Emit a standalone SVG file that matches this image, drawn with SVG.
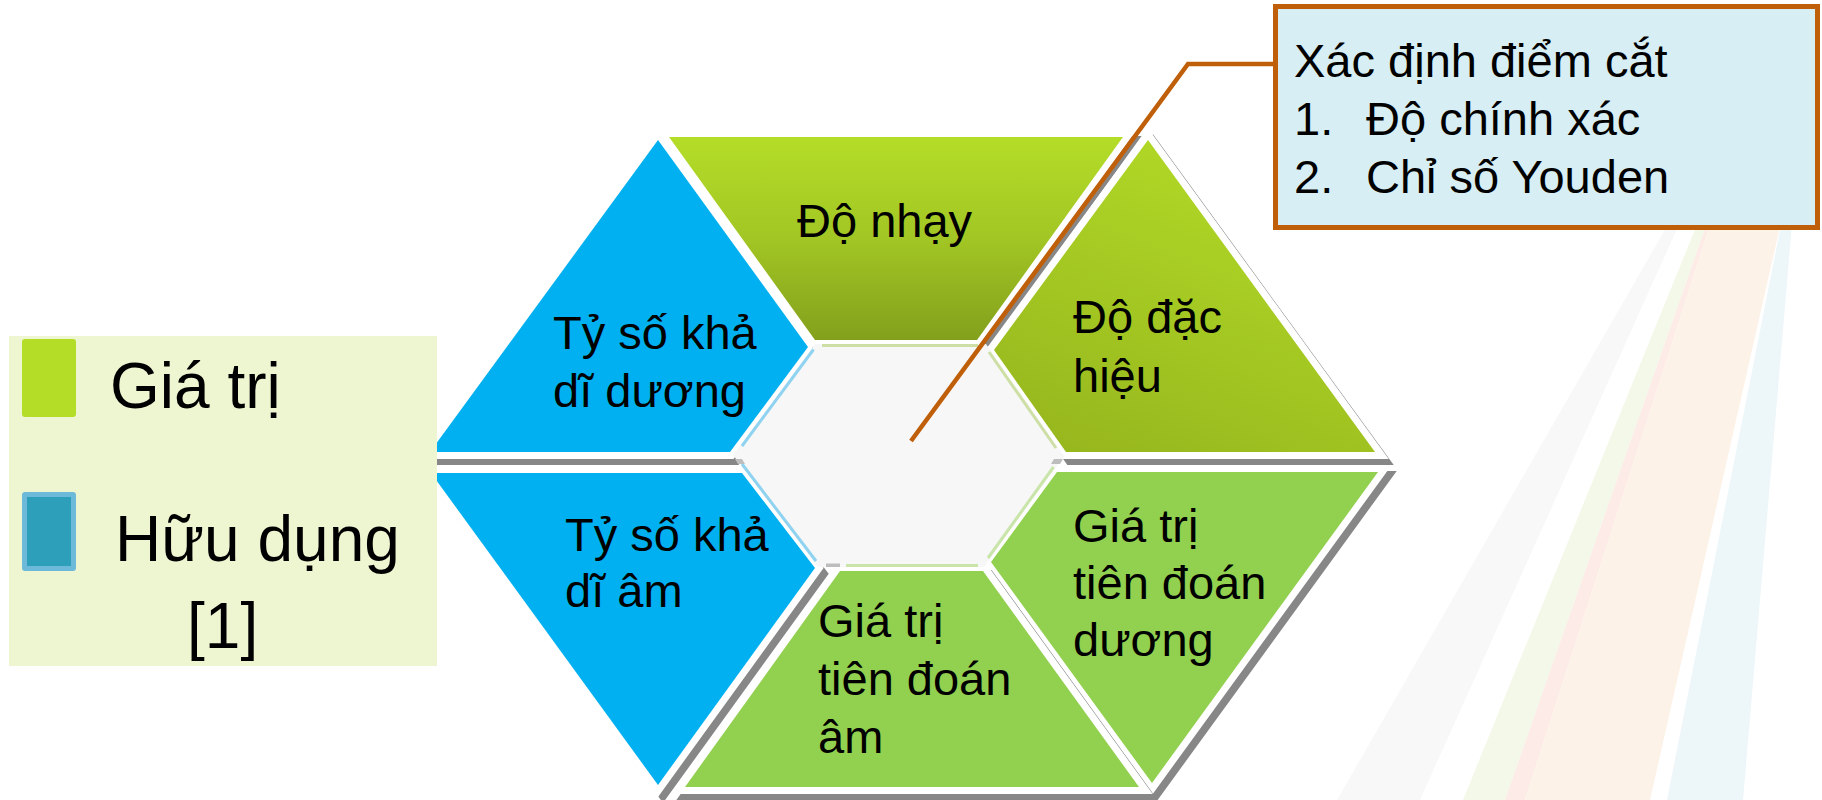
<svg xmlns="http://www.w3.org/2000/svg" xmlns:xlink="http://www.w3.org/1999/xlink" width="1822" height="800" viewBox="0 0 1822 800">
  <style>
    text { font-family: "Liberation Sans", Arial, "Noto Sans", sans-serif; fill: #000; }
    .lbl { font-size: 47px; }
    .leg { font-size: 64px; }
    .shadow { fill: #878787; stroke: #878787; stroke-width: 14; stroke-linejoin: miter; }
    .halo { fill: #fff; stroke: #fff; stroke-width: 14; stroke-linejoin: miter; }
    .blue { fill: #00b0f0; }
    .lime { fill: #92d050; }
    .edge { fill: none; stroke-width: 3; stroke-linecap: butt; }
    .band { stroke: none; }
  </style>
  <defs>
    <linearGradient id="gTop" x1="0" y1="0" x2="0" y2="1">
      <stop offset="0" stop-color="#b4dd28"/>
      <stop offset="0.5" stop-color="#a2c624"/>
      <stop offset="1" stop-color="#83a01c"/>
    </linearGradient>
    <linearGradient id="gRight" x1="0.7" y1="0" x2="0.2" y2="1">
      <stop offset="0" stop-color="#b3db27"/>
      <stop offset="1" stop-color="#97b71e"/>
    </linearGradient>
    <!-- segment outlines of the exploded hexagon -->
    <polygon id="p-ul" points="658,140 808,347 730,452 430,452"/>
    <polygon id="p-t" points="669,137 1123,137 977,340 815,340"/>
    <polygon id="p-ur" points="1148,140 1375,452 1066,452 994,350"/>
    <polygon id="p-lr" points="1057,472 1378,472 1152,783 991,562"/>
    <polygon id="p-b" points="840,571 983,571 1139,787 685,787"/>
    <polygon id="p-ll" points="431,473 742,473 815,568 658,785"/>
  </defs>

  <rect width="1822" height="800" fill="#ffffff"/>

  <!-- faint background rays -->
  <g id="rays">
    <polygon class="band" fill="#f8f8f8" points="1682,200 1690,200 1420,800 1337,800"/>
    <polygon class="band" fill="#f3f8e8" points="1707,200 1715,200 1505,800 1463,800"/>
    <polygon class="band" fill="#fcebe7" points="1715,200 1718,200 1525,800 1505,800"/>
    <polygon class="band" fill="#fdf2e7" points="1718,200 1786,200 1650,800 1525,800"/>
    <polygon class="band" fill="#edf6f9" points="1786,200 1794,200 1743,800 1667,800"/>
  </g>

  <!-- hexagon segments -->
  <g id="node-lr-positive">
    <use xlink:href="#p-ul" class="shadow" transform="translate(5,6)"/>
    <use xlink:href="#p-ul" class="halo"/>
    <use xlink:href="#p-ul" class="blue"/>
    <text class="lbl" x="553" y="349">Tỷ số khả</text>
    <text class="lbl" x="553" y="407">dĩ dương</text>
  </g>
  <g id="node-sensitivity">
    <use xlink:href="#p-t" class="shadow" transform="translate(5,6)"/>
    <use xlink:href="#p-t" class="halo"/>
    <use xlink:href="#p-t" fill="url(#gTop)"/>
    <text class="lbl" x="797" y="237">Độ nhạy</text>
  </g>
  <g id="node-specificity">
    <use xlink:href="#p-ur" class="shadow" transform="translate(5,6)"/>
    <use xlink:href="#p-ur" class="halo"/>
    <use xlink:href="#p-ur" fill="url(#gRight)"/>
    <text class="lbl" x="1073" y="333">Độ đặc</text>
    <text class="lbl" x="1073" y="392">hiệu</text>
  </g>
  <g id="node-ppv">
    <use xlink:href="#p-lr" class="shadow" transform="translate(5,6)"/>
    <use xlink:href="#p-lr" class="halo"/>
    <use xlink:href="#p-lr" class="lime"/>
    <text class="lbl" x="1073" y="542">Giá trị</text>
    <text class="lbl" x="1073" y="599">tiên đoán</text>
    <text class="lbl" x="1073" y="656">dương</text>
  </g>
  <g id="node-npv">
    <use xlink:href="#p-b" class="shadow" transform="translate(5,6)"/>
    <use xlink:href="#p-b" class="halo"/>
    <use xlink:href="#p-b" class="lime"/>
    <text class="lbl" x="818" y="637">Giá trị</text>
    <text class="lbl" x="818" y="695">tiên đoán</text>
    <text class="lbl" x="818" y="753">âm</text>
  </g>
  <g id="node-lr-negative">
    <use xlink:href="#p-ll" class="shadow" transform="translate(5,6)"/>
    <use xlink:href="#p-ll" class="halo"/>
    <use xlink:href="#p-ll" class="blue"/>
    <text class="lbl" x="565" y="551">Tỷ số khả</text>
    <text class="lbl" x="565" y="607">dĩ âm</text>
  </g>

  <!-- central hexagon -->
  <g id="node-center">
    <polygon points="815,344 986,344 1064,456 984,567 818,567 733,455" fill="#f7f7f7"/>
    <line class="edge" stroke="#cddfa4" x1="822" y1="345.5" x2="978" y2="345.5"/>
    <line class="edge" stroke="#cddfa4" x1="989" y1="352" x2="1056" y2="448"/>
    <line class="edge" stroke="#c9e5a9" x1="1053.5" y1="467" x2="988" y2="558"/>
    <line class="edge" stroke="#c9e5a9" x1="846" y1="565.5" x2="978" y2="565.5"/>
    <line class="edge" stroke="#8fd3f1" x1="816" y1="561" x2="742" y2="464"/>
    <line class="edge" stroke="#8fd3f1" x1="742" y1="446" x2="813.5" y2="349.5"/>
    <polygon points="735,459 742,459 745,464 738,464" fill="#bdbdbd"/>
    <polygon points="1054,459 1063,459 1060,464 1051,464" fill="#bdbdbd"/>
    <polygon points="826,563.5 840,563.5 840,567 826,567" fill="#bdbdbd"/>
  </g>

  <!-- legend -->
  <g id="legend">
    <rect x="9" y="336" width="428" height="330" fill="#eef6d1"/>
    <rect x="22" y="339" width="54" height="78" rx="3" fill="#b4dd28"/>
    <rect x="22" y="492" width="54" height="79" rx="3" fill="#6cb9d9"/>
    <rect x="27" y="497" width="44" height="69" fill="#2e9fbb"/>
    <text class="leg" x="110" y="408">Giá trị</text>
    <text class="leg" x="115" y="561">Hữu dụng</text>
    <text class="leg" x="187" y="648">[1]</text>
  </g>

  <!-- callout connector -->
  <g id="connectors">
    <polyline points="1274,64 1188,64 911,441" fill="none" stroke="#bf5f0a" stroke-width="4.5" stroke-linejoin="miter"/>
  </g>

  <!-- callout -->
  <g id="node-cutoff">
    <rect x="1275.5" y="6.5" width="542" height="221" fill="#d6eef4" stroke="#bf5f0a" stroke-width="5"/>
    <text class="lbl" x="1294" y="77">Xác định điểm cắt</text>
    <text class="lbl" x="1294" y="135">1.</text>
    <text class="lbl" x="1366" y="135">Độ chính xác</text>
    <text class="lbl" x="1294" y="193">2.</text>
    <text class="lbl" x="1366" y="193">Chỉ số Youden</text>
  </g>
</svg>
